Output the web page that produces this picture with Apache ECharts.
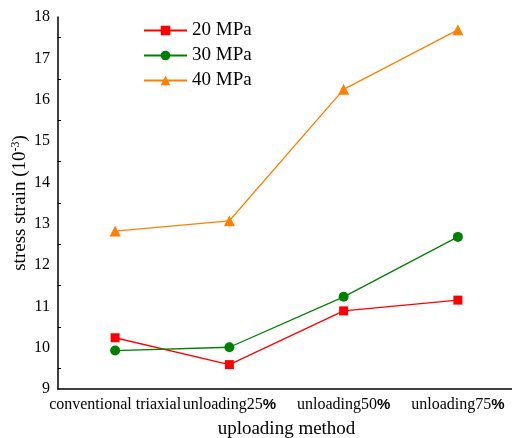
<!DOCTYPE html>
<html><head><meta charset="utf-8">
<script src="https://cdn.jsdelivr.net/npm/echarts@6/dist/echarts.min.js"></script>
<style>html,body{margin:0;padding:0;background:#fff}#c{width:512px;height:438px}</style>
</head><body><div id="c"></div>
<script>
const categories = ['conventional triaxial', 'unloading25%', 'unloading50%', 'unloading75%'];
const s20 = [10.24, 9.59, 10.89, 11.15];
const s30 = [9.93, 10.01, 11.23, 12.68];
const s40 = [12.82, 13.07, 16.25, 17.69];
const seriesNames = ['20 MPa', '30 MPa', '40 MPa'];
const yTicks = [9, 10, 11, 12, 13, 14, 15, 16, 17, 18];

const font = 'Liberation Serif, Times New Roman, serif';
const chart = echarts.init(document.getElementById('c'), null, {renderer: 'canvas'});
function catLabel(v) {
  const m = v.match(/^(.*?)(%)$/);
  return m ? m[1] + '{p|%}' : v;
}
chart.setOption({
  animation: false,
  backgroundColor: '#fff',
  grid: {left: 58, top: 17, height: 372, width: 457, outerBoundsMode: 'none', containLabel: false},
  legend: {
    left: 138, top: 15, orient: 'vertical', itemWidth: 43, itemHeight: 12, itemGap: 4,
    textStyle: {fontFamily: font, fontSize: 19, color: '#000', lineHeight: 21},
    data: seriesNames
  },
  xAxis: [{
    type: 'category', data: categories, boundaryGap: true,
    axisLine: {lineStyle: {color: '#000', width: 1.5}},
    axisTick: {inside: true, alignWithLabel: true, length: 6, lineStyle: {color: '#000'}},
    axisLabel: {color: '#000', fontFamily: font, fontSize: 16, margin: 8, interval: 0,
      formatter: catLabel,
      rich: {p: {fontFamily: 'Liberation Sans, Arial, sans-serif', fontWeight: 'bold', fontSize: 15, color: '#000'}}},
    name: 'uploading method', nameLocation: 'middle', nameGap: 31,
    nameTextStyle: {fontFamily: font, fontSize: 19, color: '#000'}
  }, {
    type: 'category', data: categories, boundaryGap: true, position: 'bottom',
    axisLine: {show: false},
    axisTick: {inside: true, length: 3, lineStyle: {color: '#000'}},
    axisLabel: {show: false}
  }],
  yAxis: {
    type: 'value', min: yTicks[0], max: yTicks[yTicks.length - 1], interval: 1,
    axisLine: {show: true, lineStyle: {color: '#000', width: 1.5}},
    axisTick: {inside: true, length: 6, lineStyle: {color: '#000'}},
    minorTick: {show: true, splitNumber: 2, length: 3, lineStyle: {color: '#000'}},
    splitLine: {show: false},
    axisLabel: {color: '#000', fontFamily: font, fontSize: 16, margin: 8},
    name: 'stress strain (10{s|-3})', nameLocation: 'middle', nameGap: 27, nameMoveOverlap: false,
    nameTextStyle: {fontFamily: font, fontSize: 19, color: '#000',
      rich: {s: {fontFamily: font, fontSize: 12, color: '#000', verticalAlign: 'top', padding: [0, 0, 9, 0]}}}
  },
  series: [
    {name: seriesNames[0], type: 'line', data: s20, symbol: 'rect', symbolSize: 9,
      itemStyle: {color: '#ff0000'}, lineStyle: {color: '#ff0000', width: 1.3}},
    {name: seriesNames[1], type: 'line', data: s30, symbol: 'circle', symbolSize: 10,
      itemStyle: {color: '#008000'}, lineStyle: {color: '#008000', width: 1.3}},
    {name: seriesNames[2], type: 'line', data: s40, symbol: 'triangle', symbolSize: 11,
      itemStyle: {color: '#ff8000'}, lineStyle: {color: '#ff8000', width: 1.3}}
  ]
});
</script></body></html>
